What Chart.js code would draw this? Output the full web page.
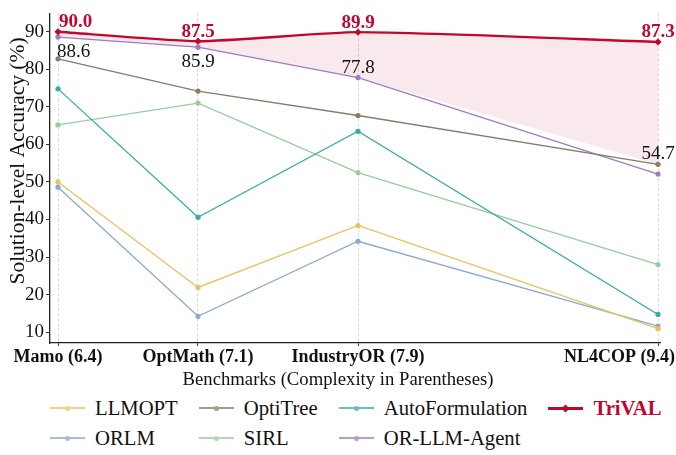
<!DOCTYPE html>
<html>
<head>
<meta charset="utf-8">
<script src="https://cdn.jsdelivr.net/npm/chart.js@4"></script>
<style>
  html, body { margin: 0; padding: 0; background: #fff; }
  body { width: 676px; height: 455px; position: relative; overflow: hidden; }
  #wrap { position: absolute; left: 0; top: 0; width: 676px; height: 390px; }
  #legend { position: absolute; left: 50px; top: 393px; display: grid;
            grid-template-columns: repeat(4, auto); column-gap: 21px;
            font-family: 'Liberation Serif', 'Times New Roman', serif;
            font-size: 20.7px; line-height: 30px; color: #111; }
  .item { display: flex; align-items: center; white-space: nowrap; }
  .sw { position: relative; width: 35px; height: 2px; margin-right: 10px; }
  .sw i { position: absolute; left: 15px; top: -1.5px; width: 5px; height: 5px; border-radius: 50%; }
  .sw.tri { height: 3px; }
  .sw.tri i { left: 14px; top: -2px; width: 7px; height: 7px; border-radius: 0; transform: rotate(45deg) scale(0.8); }
</style>
</head>
<body>
<div id="wrap"><canvas id="c"></canvas></div>
<div id="legend"></div>
<script>
// ---- data ----
const categories = ["Mamo (6.4)", "OptMath (7.1)", "IndustryOR (7.9)", "NL4COP (9.4)"];
const complexity = [6.4, 7.1, 7.9, 9.4];
const yTicks = [10, 20, 30, 40, 50, 60, 70, 80, 90];

const LLMOPT          = [50.0, 21.9, 38.4, 10.9];
const ORLM            = [48.6, 14.2, 34.2, 11.6];
const OptiTree        = [82.8, 74.2, 67.7, 54.7];
const SIRL            = [65.2, 71.0, 52.5, 28.0];
const AutoFormulation = [74.8, 40.6, 63.5, 14.7];
const ORLLMAgent      = [88.6, 85.9, 77.8, 52.1];
const TriVAL          = [90.0, 87.5, 89.9, 87.3];

const xTitle = "Benchmarks (Complexity in Parentheses)";
const yTitle = "Solution-level Accuracy (%)";

const baselines = [
  { name: "LLMOPT", data: LLMOPT, color: "#E9C25B" },
  { name: "OptiTree", data: OptiTree, color: "#8A7A69" },
  { name: "AutoFormulation", data: AutoFormulation, color: "#35ABA7" },
  { name: "ORLM", data: ORLM, color: "#8EA8D0" },
  { name: "SIRL", data: SIRL, color: "#98CC9F" },
  { name: "OR-LLM-Agent", data: ORLLMAgent, color: "#9E7BC0" }
];
const triColor = "#C0072F";
const bestBaseline = complexity.map((_, i) => Math.max(...baselines.map(b => b.data[i])));

const FONT = "'Liberation Serif', 'Times New Roman', serif";
const pts = arr => arr.map((v, i) => ({ x: complexity[i], y: v }));

const datasets = [];
datasets.push({
  label: "_best", data: pts(bestBaseline), borderWidth: 0, borderColor: "rgba(0,0,0,0)",
  pointRadius: 0, pointHoverRadius: 0, fill: false, order: 20, clip: false
});
baselines.forEach((b, k) => {
  datasets.push({
    label: b.name, data: pts(b.data), borderColor: b.color, backgroundColor: b.color,
    borderWidth: 1.3, pointRadius: 2.6, pointBorderWidth: 0, fill: false,
    tension: 0, order: 2 + k, clip: false
  });
});
datasets.push({
  label: "TriVAL", data: pts(TriVAL), borderColor: triColor, backgroundColor: triColor,
  borderWidth: 2.4, pointStyle: "rectRot", pointRadius: 3.6, pointBorderWidth: 0,
  tension: 0.2, order: 0, clip: false,
  fill: { target: 0, above: "rgba(192,7,47,0.09)", below: "rgba(192,7,47,0.09)" }
});

const labelPlugin = {
  id: "valueLabels",
  afterDatasetsDraw(chart) {
    const { ctx, scales: { x, y } } = chart;
    ctx.save();
    ctx.textBaseline = "alphabetic";
    // TriVAL labels
    ctx.font = "bold 19px " + FONT;
    ctx.fillStyle = triColor;
    TriVAL.forEach((v, i) => {
      const px = x.getPixelForValue(complexity[i]);
      const py = y.getPixelForValue(v);
      ctx.textAlign = i === 0 ? "left" : "center";
      ctx.fillText(v.toFixed(1), px + (i === 0 ? 1 : 0), py - 11 + 6.5);
    });
    // best baseline labels
    const below = [true, true, false, false];
    ctx.font = "19px " + FONT;
    ctx.fillStyle = "#111";
    bestBaseline.forEach((v, i) => {
      const px = x.getPixelForValue(complexity[i]);
      const py = y.getPixelForValue(v);
      ctx.textAlign = i === 0 ? "left" : "center";
      const cy = below[i] ? py + 13 : py - 11.5;
      ctx.fillText(v.toFixed(1), px + (i === 0 ? -1 : 0), cy + 6.5);
    });
    // x tick labels
    ctx.font = "bold 18px " + FONT;
    ctx.fillStyle = "#111";
    categories.forEach((c, i) => {
      const px = x.getPixelForValue(complexity[i]);
      const w = ctx.measureText(c).width;
      let cx = px;
      if (cx + w / 2 > chart.width - 1) cx = chart.width - 1 - w / 2;
      ctx.textAlign = "center";
      ctx.fillText(c, cx, y.bottom + 18.5);
    });
    // axis titles
    ctx.font = "18.7px " + FONT;
    ctx.textAlign = "center";
    ctx.fillText(xTitle, chart.width / 2, y.bottom + 41.5);
    ctx.save();
    ctx.translate(23.5, 161);
    ctx.rotate(-Math.PI / 2);
    ctx.font = "21.5px " + FONT;
    ctx.fillText(yTitle, 0, 0);
    ctx.restore();
    ctx.restore();
  }
};

new Chart(document.getElementById("c"), {
  type: "line",
  data: { datasets },
  plugins: [labelPlugin],
  options: {
    responsive: true, maintainAspectRatio: false, animation: false,
    layout: { padding: { top: 5, right: 16, left: 0, bottom: 0 } },
    plugins: {
      legend: { display: false }, tooltip: { enabled: false },
      filler: { drawTime: "beforeDatasetsDraw" }
    },
    scales: {
      x: {
        type: "linear", min: 6.36, max: 9.41,
        afterBuildTicks: s => { s.ticks = complexity.map(v => ({ value: v })); },
        afterFit: s => { s.height = 47; },
        ticks: { display: false },
        grid: { display: true, drawOnChartArea: true, drawTicks: true, color: "#d6d7e0",
                lineWidth: 1, tickLength: 3, tickColor: "#333", tickBorderDash: [] },
        border: { display: true, color: "#222", width: 1.3, dash: [3, 2] },
        title: { display: false }
      },
      y: {
        type: "linear", min: 7.1, max: 94.9,
        afterBuildTicks: s => { s.ticks = yTicks.map(v => ({ value: v })); },
        afterFit: s => { s.width = 50; },
        ticks: { color: "#111", font: { family: FONT, size: 19 }, padding: 2 },
        grid: { drawOnChartArea: false, drawTicks: true, tickLength: 4, tickColor: "#333" },
        border: { display: true, color: "#222", width: 1.3 },
        title: { display: false }
      }
    }
  }
});

// legend: 4 columns x 2 rows like the reference
const order = [
  baselines[0], baselines[1], baselines[2], { name: "TriVAL", color: triColor, tri: true },
  baselines[3], baselines[4], baselines[5]
];
const lg = document.getElementById("legend");
order.forEach(it => {
  const d = document.createElement("div");
  d.className = "item";
  const sw = document.createElement("span");
  sw.className = "sw" + (it.tri ? " tri" : "");
  sw.style.background = it.color;
  sw.style.opacity = it.tri ? 1 : 0.75;
  const dot = document.createElement("i");
  dot.style.background = it.color;
  sw.appendChild(dot);
  const t = document.createElement("span");
  t.textContent = it.name;
  if (it.tri) { t.style.fontWeight = "bold"; t.style.color = triColor; }
  d.appendChild(sw); d.appendChild(t);
  lg.appendChild(d);
});
</script>
</body>
</html>
